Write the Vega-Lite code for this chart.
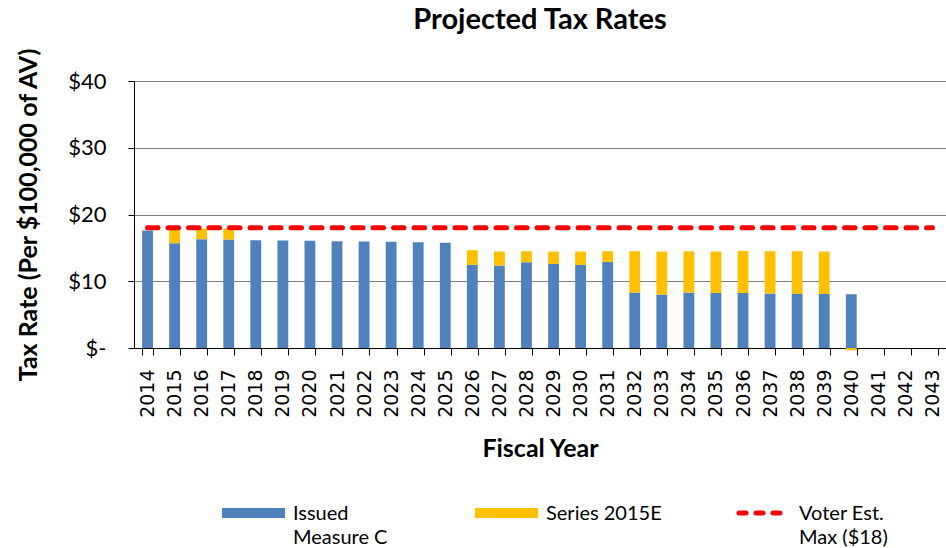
{
  "$schema": "https://vega.github.io/schema/vega-lite/v6.json",
  "width": 812,
  "height": 267,
  "autosize": {"type": "none"},
  "padding": {"left": 134, "top": 81, "right": 0, "bottom": 200},
  "background": "white",
  "title": {"text": "Projected Tax Rates", "font": "Lato", "fontSize": 29, "fontWeight": "bold", "color": "black", "anchor": "middle", "frame": "group", "offset": 12},
  "config": {
    "view": {"stroke": null},
    "axis": {"domainColor": "black", "tickColor": "black", "labelColor": "black", "titleColor": "black"}
  },
  "datasets": {
    "bars": [
      {"year": "2014", "series": "Issued Measure C", "value": 17.6},
      {"year": "2015", "series": "Issued Measure C", "value": 15.7},
      {"year": "2015", "series": "Series 2015E", "value": 2.15},
      {"year": "2016", "series": "Issued Measure C", "value": 16.3},
      {"year": "2016", "series": "Series 2015E", "value": 1.6},
      {"year": "2017", "series": "Issued Measure C", "value": 16.25},
      {"year": "2017", "series": "Series 2015E", "value": 1.65},
      {"year": "2018", "series": "Issued Measure C", "value": 16.15},
      {"year": "2019", "series": "Issued Measure C", "value": 16.1},
      {"year": "2020", "series": "Issued Measure C", "value": 16.05},
      {"year": "2021", "series": "Issued Measure C", "value": 16.0},
      {"year": "2022", "series": "Issued Measure C", "value": 15.95},
      {"year": "2023", "series": "Issued Measure C", "value": 15.9},
      {"year": "2024", "series": "Issued Measure C", "value": 15.85},
      {"year": "2025", "series": "Issued Measure C", "value": 15.75},
      {"year": "2026", "series": "Issued Measure C", "value": 12.45},
      {"year": "2026", "series": "Series 2015E", "value": 2.2},
      {"year": "2027", "series": "Issued Measure C", "value": 12.35},
      {"year": "2027", "series": "Series 2015E", "value": 2.1},
      {"year": "2028", "series": "Issued Measure C", "value": 12.85},
      {"year": "2028", "series": "Series 2015E", "value": 1.65},
      {"year": "2029", "series": "Issued Measure C", "value": 12.6},
      {"year": "2029", "series": "Series 2015E", "value": 1.85},
      {"year": "2030", "series": "Issued Measure C", "value": 12.45},
      {"year": "2030", "series": "Series 2015E", "value": 2.0},
      {"year": "2031", "series": "Issued Measure C", "value": 12.9},
      {"year": "2031", "series": "Series 2015E", "value": 1.6},
      {"year": "2032", "series": "Issued Measure C", "value": 8.3},
      {"year": "2032", "series": "Series 2015E", "value": 6.2},
      {"year": "2033", "series": "Issued Measure C", "value": 8.0},
      {"year": "2033", "series": "Series 2015E", "value": 6.45},
      {"year": "2034", "series": "Issued Measure C", "value": 8.3},
      {"year": "2034", "series": "Series 2015E", "value": 6.2},
      {"year": "2035", "series": "Issued Measure C", "value": 8.25},
      {"year": "2035", "series": "Series 2015E", "value": 6.2},
      {"year": "2036", "series": "Issued Measure C", "value": 8.25},
      {"year": "2036", "series": "Series 2015E", "value": 6.3},
      {"year": "2037", "series": "Issued Measure C", "value": 8.15},
      {"year": "2037", "series": "Series 2015E", "value": 6.35},
      {"year": "2038", "series": "Issued Measure C", "value": 8.1},
      {"year": "2038", "series": "Series 2015E", "value": 6.4},
      {"year": "2039", "series": "Issued Measure C", "value": 8.1},
      {"year": "2039", "series": "Series 2015E", "value": 6.35},
      {"year": "2040", "series": "Issued Measure C", "value": 8.05},
      {"year": "2040", "series": "Series 2015E", "value": -0.35}
    ],
    "limit": [
      {"year": "2014", "series": "Voter Est. Max ($18)", "value": 18},
      {"year": "2015", "series": "Voter Est. Max ($18)", "value": 18},
      {"year": "2016", "series": "Voter Est. Max ($18)", "value": 18},
      {"year": "2017", "series": "Voter Est. Max ($18)", "value": 18},
      {"year": "2018", "series": "Voter Est. Max ($18)", "value": 18},
      {"year": "2019", "series": "Voter Est. Max ($18)", "value": 18},
      {"year": "2020", "series": "Voter Est. Max ($18)", "value": 18},
      {"year": "2021", "series": "Voter Est. Max ($18)", "value": 18},
      {"year": "2022", "series": "Voter Est. Max ($18)", "value": 18},
      {"year": "2023", "series": "Voter Est. Max ($18)", "value": 18},
      {"year": "2024", "series": "Voter Est. Max ($18)", "value": 18},
      {"year": "2025", "series": "Voter Est. Max ($18)", "value": 18},
      {"year": "2026", "series": "Voter Est. Max ($18)", "value": 18},
      {"year": "2027", "series": "Voter Est. Max ($18)", "value": 18},
      {"year": "2028", "series": "Voter Est. Max ($18)", "value": 18},
      {"year": "2029", "series": "Voter Est. Max ($18)", "value": 18},
      {"year": "2030", "series": "Voter Est. Max ($18)", "value": 18},
      {"year": "2031", "series": "Voter Est. Max ($18)", "value": 18},
      {"year": "2032", "series": "Voter Est. Max ($18)", "value": 18},
      {"year": "2033", "series": "Voter Est. Max ($18)", "value": 18},
      {"year": "2034", "series": "Voter Est. Max ($18)", "value": 18},
      {"year": "2035", "series": "Voter Est. Max ($18)", "value": 18},
      {"year": "2036", "series": "Voter Est. Max ($18)", "value": 18},
      {"year": "2037", "series": "Voter Est. Max ($18)", "value": 18},
      {"year": "2038", "series": "Voter Est. Max ($18)", "value": 18},
      {"year": "2039", "series": "Voter Est. Max ($18)", "value": 18},
      {"year": "2040", "series": "Voter Est. Max ($18)", "value": 18},
      {"year": "2041", "series": "Voter Est. Max ($18)", "value": 18},
      {"year": "2042", "series": "Voter Est. Max ($18)", "value": 18},
      {"year": "2043", "series": "Voter Est. Max ($18)", "value": 18}
    ]
  },
  "encoding": {
    "x": {
      "field": "year",
      "type": "ordinal",
      "scale": {"paddingInner": 0.6, "paddingOuter": 0.3},
      "axis": {
        "title": "Fiscal Year",
        "titleFont": "Lato",
        "titleFontSize": 25,
        "titleFontWeight": "bold",
        "titlePadding": 19,
        "labelFont": "DejaVu Sans",
        "labelFontSize": 19,
        "labelAngle": -90,
        "labelPadding": 14,
        "tickSize": 7,
        "tickBand": "extent",
        "grid": false
      }
    },
    "y": {
      "field": "value",
      "type": "quantitative",
      "scale": {"domain": [0, 40], "nice": false},
      "axis": {
        "values": [0, 10, 20, 30, 40],
        "labelExpr": "datum.value === 0 ? '$-' : '$' + datum.value",
        "labelFont": "Lato",
        "labelFontSize": 22,
        "labelPadding": 22,
        "tickSize": 6,
        "grid": true,
        "gridColor": "#7f7f7f",
        "title": "Tax Rate (Per $100,000 of AV)",
        "titleFont": "Lato",
        "titleFontSize": 25,
        "titleFontWeight": "bold",
        "titlePadding": 26
      }
    },
    "color": {
      "field": "series",
      "type": "nominal",
      "scale": {
        "domain": ["Issued Measure C", "Series 2015E", "Voter Est. Max ($18)"],
        "range": ["#4F81BD", "#FFC000", "#FF0000"]
      },
      "legend": {
        "orient": "none",
        "legendX": 88,
        "legendY": 420,
        "direction": "horizontal",
        "columns": 3,
        "gridAlign": "all",
        "title": null,
        "padding": 0,
        "symbolType": "stroke",
        "symbolSize": 3969,
        "symbolStrokeWidth": 10,
        "labelFont": "Lato",
        "labelFontSize": 20,
        "labelColor": "black",
        "labelBaseline": "top",
        "columnPadding": 46,
        "labelExpr": "datum.label === 'Issued Measure C' ? ['Issued', 'Measure C'] : datum.label === 'Voter Est. Max ($18)' ? ['Voter Est.', 'Max ($18)'] : ['Series 2015E', ' ']",
        "encode": {
          "symbols": {
            "update": {
              "x": {"signal": "datum.value === 'Voter Est. Max ($18)' ? 36 : 31.5"},
              "y": {"value": 12},
              "stroke": {"scale": "color", "field": "value"},
              "strokeDash": {"signal": "datum.value === 'Voter Est. Max ($18)' ? [7, 10] : [1, 0]"},
              "strokeWidth": {"signal": "datum.value === 'Voter Est. Max ($18)' ? 5 : 10"},
              "strokeCap": {"signal": "datum.value === 'Voter Est. Max ($18)' ? 'round' : 'butt'"},
              "size": {"signal": "datum.value === 'Voter Est. Max ($18)' ? 2500 : 3969"}
            }
          },
          "labels": {
            "update": {
              "x": {"value": 71},
              "y": {"value": 3},
              "lineHeight": {"value": 24}
            }
          }
        }
      }
    }
  },
  "layer": [
    {
      "data": {"name": "bars"},
      "mark": {"type": "bar"},
      "encoding": {"order": {"field": "series", "sort": "ascending"}}
    },
    {
      "data": {"name": "limit"},
      "mark": {"type": "line", "strokeDash": [10.5, 10], "strokeWidth": 5, "strokeCap": "round"}
    }
  ]
}
